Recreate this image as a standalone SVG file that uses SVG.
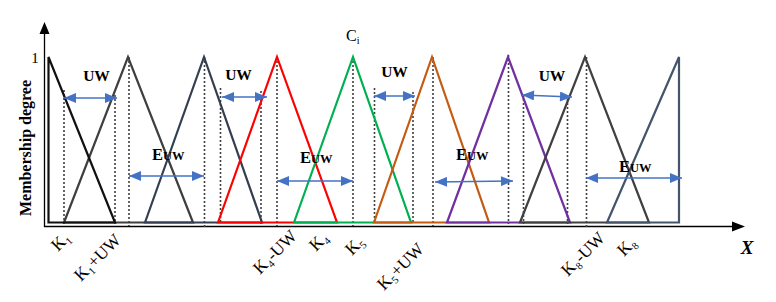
<svg xmlns="http://www.w3.org/2000/svg" width="776" height="302" viewBox="0 0 776 302">
<defs>
<marker id="bh" viewBox="0 0 12 10" refX="12" refY="5" markerWidth="13" markerHeight="10" markerUnits="userSpaceOnUse" orient="auto-start-reverse">
<path d="M0,0 L12,5 L0,10 Z" fill="#4472C4"/>
</marker>
</defs>
<rect width="776" height="302" fill="#fff"/>

<g id="axes" stroke="#000" stroke-width="1.3" fill="none">
<line x1="44.5" y1="227" x2="44.5" y2="33"/>
<path d="M39.5,34 L44.5,22 L49.5,34 Z" fill="#000" stroke="none"/>
<line x1="44" y1="226.5" x2="733" y2="226.5"/>
<path d="M732,221.5 L745,226.5 L732,231.5 Z" fill="#000" stroke="none"/>
</g>

<g id="dotted-guides" stroke="#404040" stroke-width="1.6" stroke-dasharray="2 2" fill="none">
<line x1="64" y1="90" x2="64" y2="224"/>
<line x1="115" y1="95" x2="115" y2="224"/>
<line x1="129" y1="57" x2="129" y2="226"/>
<line x1="204.5" y1="57" x2="204.5" y2="229"/>
<line x1="220.5" y1="88" x2="220.5" y2="224"/>
<line x1="261" y1="91" x2="261" y2="224"/>
<line x1="277" y1="57" x2="277" y2="226"/>
<line x1="353" y1="57" x2="353" y2="226"/>
<line x1="374.5" y1="88" x2="374.5" y2="224"/>
<line x1="413" y1="92" x2="413" y2="224"/>
<line x1="433" y1="57" x2="433" y2="226"/>
<line x1="508.5" y1="55" x2="508.5" y2="224"/>
<line x1="523.5" y1="95" x2="523.5" y2="224"/>
<line x1="567.5" y1="95" x2="567.5" y2="224"/>
<line x1="586.5" y1="57" x2="586.5" y2="229"/>
</g>

<g id="membership-functions" fill="none" stroke-width="2.2">
<g id="mf-K2"><path stroke="#3F3F3F" d="M64,222.5 L128,57 L193,222.5 Z"/></g>
<g id="mf-K1"><path stroke="#111" d="M48.5,222.5 L48.5,57 L115,222.5 Z"/></g>
<g id="mf-K3"><path stroke="#333F50" d="M145,222.5 L204,57 L262,222.5 Z"/></g>
<g id="mf-K4"><path stroke="#FF0000" d="M218,222.5 L277,57 L337,222.5 Z"/></g>
<g id="mf-K5"><path stroke="#00B050" d="M294,222.5 L353,57 L411,222.5 Z"/></g>
<g id="mf-K6"><path stroke="#C55A11" d="M374,222.5 L432,57 L489,222.5 Z"/></g>
<g id="mf-K7"><path stroke="#7030A0" d="M447,222.5 L508,57 L570,222.5 Z"/></g>
<g id="mf-K8"><path stroke="#404040" d="M520,222.5 L585,57 L649,222.5 Z"/></g>
<g id="mf-K9"><path stroke="#44546A" d="M607,222.5 L679,57 L679,222.5 Z"/></g>
</g>

<g id="connectors" stroke="#4472C4" stroke-width="1.6" fill="none" marker-start="url(#bh)" marker-end="url(#bh)">
<line x1="64" y1="98" x2="117" y2="98"/>
<line x1="222" y1="97" x2="267" y2="97"/>
<line x1="374" y1="96" x2="415" y2="96"/>
<line x1="522" y1="95" x2="572" y2="97"/>
<line x1="129" y1="176" x2="204" y2="176"/>
<line x1="277" y1="181" x2="353" y2="181"/>
<line x1="435" y1="182" x2="513" y2="181"/>
<line x1="586" y1="178" x2="682" y2="178"/>
</g>

<g id="labels" font-family="Liberation Serif, Times New Roman, serif" fill="#000">
<g font-weight="bold" font-size="15.5" text-anchor="middle">
<text x="96.5" y="81">UW</text>
<text x="238.5" y="80">UW</text>
<text x="394.5" y="77">UW</text>
<text x="552" y="81">UW</text>
</g>
<g font-weight="bold" font-size="16.5">
<text x="152" y="160">E<tspan font-size="12.5">UW</tspan></text>
<text x="300" y="163">E<tspan font-size="12.5">UW</tspan></text>
<text x="456" y="160">E<tspan font-size="12.5">UW</tspan></text>
<text x="619" y="172">E<tspan font-size="12.5">UW</tspan></text>
</g>
<text font-weight="bold" font-size="16" text-anchor="middle" x="31" y="148" transform="rotate(-90 31 148)">Membership degree</text>
<text x="35" y="63" font-size="15" text-anchor="middle">1</text>
<text x="346" y="41" font-size="16">C<tspan font-size="10" dy="3">i</tspan></text>
<text x="747" y="254" font-size="19" font-weight="bold" font-style="italic" text-anchor="middle">X</text>
</g>

<g id="ticks" font-family="Liberation Serif, Times New Roman, serif" font-size="17.5" fill="#000">
<text x="58" y="252" transform="rotate(-45 58 252)">K₁</text>
<text x="81" y="282" transform="rotate(-45 81 282)">K₁+UW</text>
<text x="260" y="275" transform="rotate(-45 260 275)">K₄-UW</text>
<text x="316" y="252" transform="rotate(-45 316 252)">K₄</text>
<text x="352" y="256" transform="rotate(-45 352 256)">K₅</text>
<text x="384" y="291" transform="rotate(-45 384 291)">K₅+UW</text>
<text x="568" y="277" transform="rotate(-45 568 277)">K₈-UW</text>
<text x="624" y="257" transform="rotate(-45 624 257)">K₈</text>
</g>
</svg>
